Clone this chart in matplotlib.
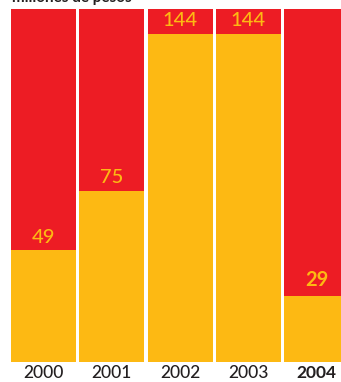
import matplotlib
matplotlib.use("Agg")
import matplotlib.pyplot as plt

# Data
years = ["2000", "2001", "2002", "2003", "2004"]
values = [49, 75, 144, 144, 29]
highlight = "2004"
scale_max = 155

RED = "#ED1C24"
YELLOW = "#FDB913"
TEXT = "#231F20"

plt.rcParams["font.family"] = ["Lato", "DejaVu Sans"]

W, H, DPI = 341, 382, 100
fig = plt.figure(figsize=(W / DPI, H / DPI), dpi=DPI)

pitch_px = 68.25
bar_w = 65 / pitch_px
left_px, right_px = 11, 341
bottom_px, top_px = 362, 9
ax = fig.add_axes([left_px / W, 1 - bottom_px / H,
                   (right_px - left_px) / W, (bottom_px - top_px) / H])

x = list(range(len(years)))
ax.bar(x, [scale_max] * len(years), width=bar_w, color=RED, linewidth=0)
ax.bar(x, values, width=bar_w, color=YELLOW, linewidth=0)

for xi, yr, v in zip(x, years, values):
    bold = yr == highlight
    ax.annotate(str(v), (xi, v), xytext=(0, 9.5 if not bold else 11.5),
                textcoords="offset points", ha="center", va="center",
                fontsize=14.5, color=YELLOW,
                fontweight="bold" if bold else "medium")
    ax.annotate(yr, (xi, 0), xytext=(0, -8), textcoords="offset points",
                ha="center", va="center", fontsize=12.5, color=TEXT,
                fontweight="bold" if bold else "medium",
                annotation_clip=False)

ax.set_xlim(-bar_w / 2, -bar_w / 2 + (right_px - left_px) / pitch_px)
ax.set_ylim(0, scale_max)
ax.axis("off")

fig.text(12 / W, 1 + 2 / H, "millones de pesos", ha="left", va="center",
         fontsize=11, fontweight="bold", color=TEXT)

fig.savefig("out.png", dpi=DPI)
